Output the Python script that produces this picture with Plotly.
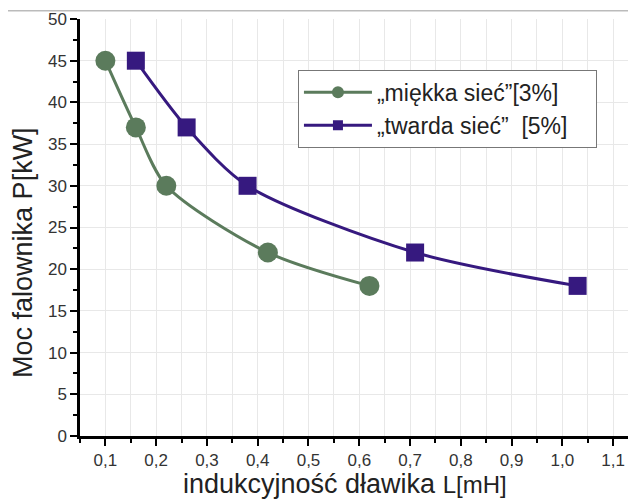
import plotly.graph_objects as go

soft_x = [0.10, 0.16, 0.22, 0.42, 0.62]
soft_y = [45, 37, 30, 22, 18]
hard_x = [0.16, 0.26, 0.38, 0.71, 1.03]
hard_y = [45, 37, 30, 22, 18]
soft_name = "„miękka sieć”[3%]"
hard_name = "„twarda sieć”  [5%]"
x_ticks = [0.1, 0.2, 0.3, 0.4, 0.5, 0.6, 0.7, 0.8, 0.9, 1.0, 1.1]
y_ticks = [0, 5, 10, 15, 20, 25, 30, 35, 40, 45, 50]
x_title = "indukcyjność dławika <span style='font-size:24px'>L[mH]</span>"
y_title = "Moc falownika P[kW]"

green = "#5b7b5c"
purple = "#36197f"
FONT = "Liberation Sans, Arial, sans-serif"

fig = go.Figure()
fig.add_trace(go.Scatter(
    x=soft_x, y=soft_y, name=soft_name, mode="lines+markers", showlegend=False,
    line=dict(color=green, width=3, shape="spline", smoothing=0.8),
    marker=dict(symbol="circle", size=20, color=green),
))
fig.add_trace(go.Scatter(
    x=hard_x, y=hard_y, name=hard_name, mode="lines+markers", showlegend=False,
    line=dict(color=purple, width=3, shape="spline", smoothing=0.8),
    marker=dict(symbol="square", size=18, color=purple),
))
# legend entries (smaller symbols, as in the reference legend)
fig.add_trace(go.Scatter(
    x=[None], y=[None], name=soft_name + "\u00a0" * 5, mode="lines+markers",
    line=dict(color=green, width=3), marker=dict(symbol="circle", size=12, color=green),
))
fig.add_trace(go.Scatter(
    x=[None], y=[None], name=hard_name, mode="lines+markers",
    line=dict(color=purple, width=3), marker=dict(symbol="square", size=10, color=purple),
))

tickfont = dict(family=FONT, size=17, color="#333")
fig.update_layout(
    width=636, height=499,
    margin=dict(l=72, r=8, t=11, b=71),
    paper_bgcolor="white", plot_bgcolor="white",
    separators=",.",
    showlegend=True,
    legend=dict(
        x=0.392, y=0.878, xanchor="left", yanchor="top",
        bordercolor="#777", borderwidth=1, bgcolor="white",
        font=dict(family=FONT, size=23, color="#222"),
        itemwidth=68, tracegroupgap=0,
    ),
    xaxis=dict(
        range=[0.05, 1.145], tickvals=x_ticks, tickformat=".1f",
        showgrid=False, zeroline=False, automargin=False,
        showline=True, linecolor="black", linewidth=2.5,
        ticks="outside", ticklen=7, tickwidth=2, tickcolor="black",
        minor=dict(dtick=0.05, tick0=0.05, ticks="outside", ticklen=4, tickwidth=2,
                   tickcolor="black", showgrid=True, gridcolor="#e8e8e8", gridwidth=1),
        tickfont=tickfont,
    ),
    yaxis=dict(
        range=[0, 50], tickvals=y_ticks, automargin=False,
        showgrid=True, gridcolor="#e8e8e8", gridwidth=1, zeroline=False,
        showline=True, linecolor="black", linewidth=2.5,
        ticks="outside", ticklen=7, tickwidth=2, tickcolor="black",
        minor=dict(dtick=2.5, ticks="outside", ticklen=4, tickwidth=2, tickcolor="black",
                   showgrid=False),
        tickfont=tickfont,
    ),
    annotations=[
        dict(text=x_title, xref="paper", yref="paper", x=0.4766, y=-0.115,
             xanchor="center", yanchor="middle", showarrow=False,
             font=dict(family=FONT, size=27, color="#222")),
        dict(text=y_title, xref="paper", yref="paper", x=-0.1025, y=0.439,
             xanchor="center", yanchor="middle", showarrow=False, textangle=-90,
             font=dict(family=FONT, size=27, color="#222")),
    ],
    shapes=[dict(type="line", xref="paper", yref="paper",
                 x0=-0.15, x1=1.02, y0=1.02, y1=1.02,
                 line=dict(color="#bbbbbb", width=1.5))],
)

fig.write_html("out.html")
